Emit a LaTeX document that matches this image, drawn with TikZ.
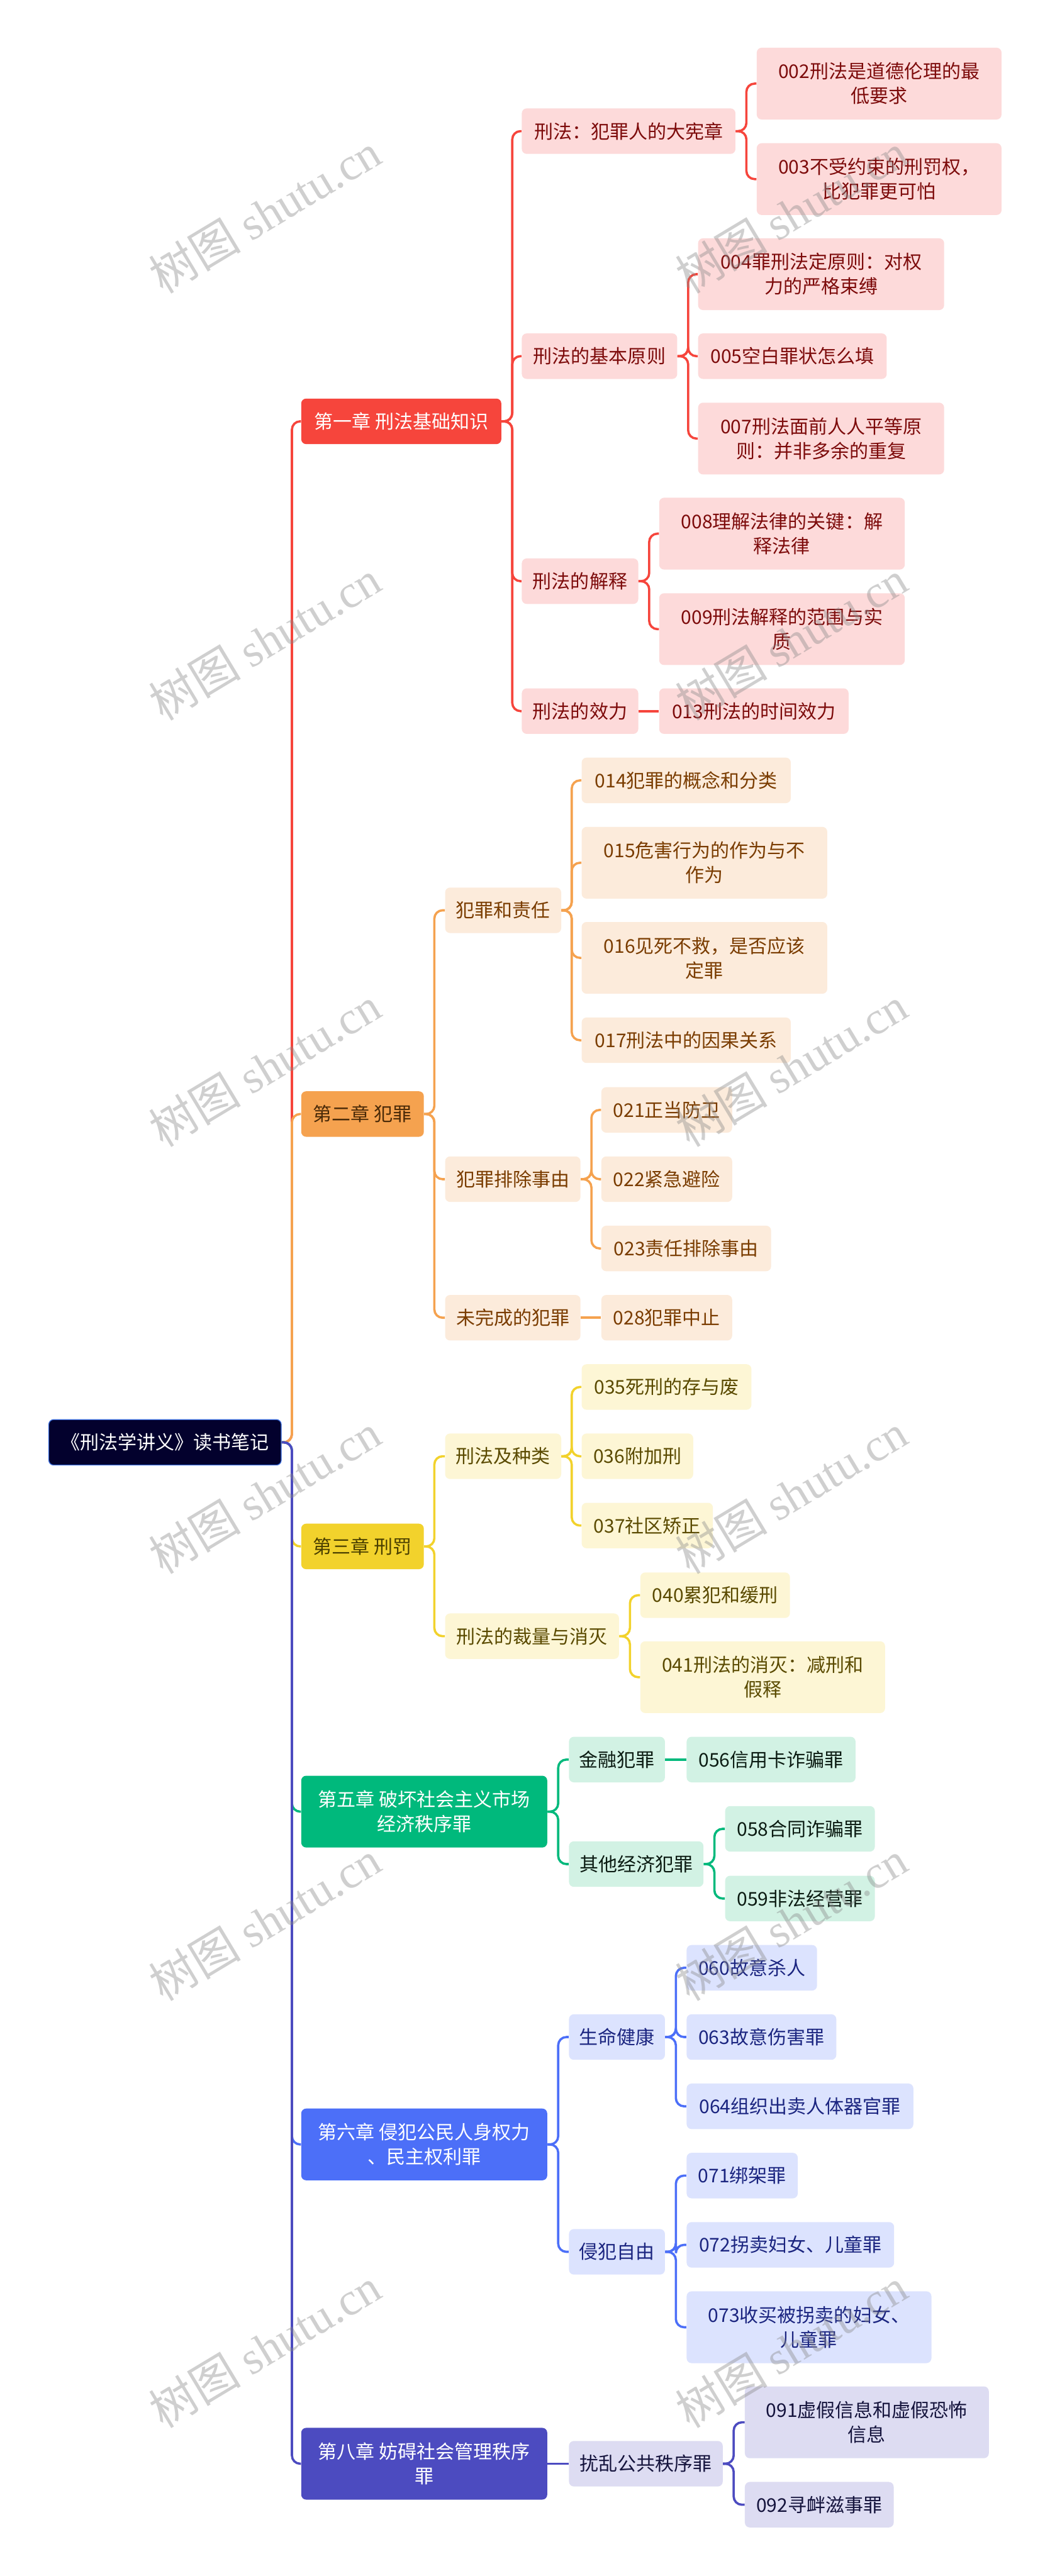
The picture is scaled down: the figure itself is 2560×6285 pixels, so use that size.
\documentclass[tikz,border=0pt]{standalone}
\usepackage{fontspec}
\setmainfont{Noto Sans CJK SC}
\newfontfamily\wmlatin{Liberation Serif}
\usetikzlibrary{calc}
\definecolor{rootfill}{HTML}{03012D}
\definecolor{rootedge}{HTML}{3A6BDB}
\definecolor{cA}{HTML}{F6453C}
\definecolor{cAl}{HTML}{FDDADA}
\definecolor{cAt}{HTML}{7D0B0B}
\definecolor{cB}{HTML}{F5A24F}
\definecolor{cBl}{HTML}{FCEBDB}
\definecolor{cBt}{HTML}{7A3C00}
\definecolor{cBh}{HTML}{4A2A08}
\definecolor{cC}{HTML}{F2D22C}
\definecolor{cCl}{HTML}{FDF6D5}
\definecolor{cCt}{HTML}{5A4A00}
\definecolor{cCh}{HTML}{4A3F00}
\definecolor{cD}{HTML}{00B97C}
\definecolor{cDl}{HTML}{D2F2E4}
\definecolor{cDt}{HTML}{0B1B12}
\definecolor{cE}{HTML}{4C6FF8}
\definecolor{cEl}{HTML}{DCE3FE}
\definecolor{cEt}{HTML}{1B2580}
\definecolor{cF}{HTML}{4C4BC0}
\definecolor{cFl}{HTML}{DDDCF2}
\definecolor{cFt}{HTML}{14133C}
\definecolor{wmgray}{HTML}{888888}
\tikzset{
  box/.style={rectangle, rounded corners=0.12cm, inner sep=0pt, align=center,
    font=\fontsize{13.1pt}{17pt}\selectfont, anchor=west, minimum height=1.11cm},
  two/.style={minimum height=1.75cm},
  bw/.style={minimum width=#1*0.01cm},
  conn/.style={line width=0.055cm, rounded corners=0.2cm},
  lA/.style={box, fill=cAl, text=cAt}, lB/.style={box, fill=cBl, text=cBt},
  lC/.style={box, fill=cCl, text=cCt}, lD/.style={box, fill=cDl, text=cDt},
  lE/.style={box, fill=cEl, text=cEt}, lF/.style={box, fill=cFl, text=cFt},
  wm/.style={rotate=31, text=wmgray, text opacity=0.4, font=\fontsize{32pt}{32pt}\selectfont}
}
\begin{document}
\begin{tikzpicture}[x=0.01cm, y=-0.01cm]
\useasboundingbox (0,0) rectangle (2560,6285);
\fill[white] (0,0) rectangle (2560,6285);
% root
\node[box, bw=567, fill=rootfill, draw=rootedge, line width=0.02cm, text=white] (root) at (118,3519) {《刑法学讲义》读书笔记};
% chapters
\node[box, bw=488, fill=cA, text=white] (ch1) at (734,1028) {第一章 刑法基础知识};
\node[box, bw=299, fill=cB, text=cBh] (ch2) at (734,2718) {第二章 犯罪};
\node[box, bw=299, fill=cC, text=cCh] (ch3) at (734,3773) {第三章 刑罚};
\node[box, two, bw=600, fill=cD, text=white] (ch5) at (734,4420) {第五章 破坏社会主义市场\\经济秩序罪};
\node[box, two, bw=600, fill=cE, text=white] (ch6) at (734,5232) {第六章 侵犯公民人身权力\\、民主权利罪};
\node[box, two, bw=600, fill=cF, text=white] (ch8) at (734,6011) {第八章 妨碍社会管理秩序\\罪};
% chapter 1
\node[lA, bw=521] (a1) at (1272,320) {刑法：犯罪人的大宪章};
\node[lA, two, bw=597] (a11) at (1845,204) {002刑法是道德伦理的最\\低要求};
\node[lA, two, bw=597] (a12) at (1845,437) {003不受约束的刑罚权，\\比犯罪更可怕};
\node[lA, bw=379] (a2) at (1272,869) {刑法的基本原则};
\node[lA, two, bw=600] (a21) at (1702,669) {004罪刑法定原则：对权\\力的严格束缚};
\node[lA, bw=460] (a22) at (1702,869) {005空白罪状怎么填};
\node[lA, two, bw=600] (a23) at (1702,1070) {007刑法面前人人平等原\\则：并非多余的重复};
\node[lA, bw=284] (a3) at (1272,1418) {刑法的解释};
\node[lA, two, bw=599] (a31) at (1607,1302) {008理解法律的关键：解\\释法律};
\node[lA, two, bw=599] (a32) at (1607,1535) {009刑法解释的范围与实\\质};
\node[lA, bw=284] (a4) at (1272,1735) {刑法的效力};
\node[lA, bw=462] (a41) at (1607,1735) {013刑法的时间效力};
% chapter 2
\node[lB, bw=283] (b1) at (1085,2221) {犯罪和责任};
\node[lB, bw=510] (b11) at (1418,1904) {014犯罪的概念和分类};
\node[lB, two, bw=599] (b12) at (1418,2105) {015危害行为的作为与不\\作为};
\node[lB, two, bw=599] (b13) at (1418,2337) {016见死不救，是否应该\\定罪};
\node[lB, bw=510] (b14) at (1418,2538) {017刑法中的因果关系};
\node[lB, bw=330] (b2) at (1085,2877) {犯罪排除事由};
\node[lB, bw=319] (b21) at (1466,2708) {021正当防卫};
\node[lB, bw=319] (b22) at (1466,2877) {022紧急避险};
\node[lB, bw=414] (b23) at (1466,3046) {023责任排除事由};
\node[lB, bw=330] (b3) at (1085,3215) {未完成的犯罪};
\node[lB, bw=319] (b31) at (1466,3215) {028犯罪中止};
% chapter 3
\node[lC, bw=283] (c1) at (1085,3553) {刑法及种类};
\node[lC, bw=414] (c11) at (1418,3384) {035死刑的存与废};
\node[lC, bw=272] (c12) at (1418,3553) {036附加刑};
\node[lC, bw=320] (c13) at (1418,3722) {037社区矫正};
\node[lC, bw=424] (c2) at (1085,3992) {刑法的裁量与消灭};
\node[lC, bw=365] (c21) at (1561,3892) {040累犯和缓刑};
\node[lC, two, bw=597] (c22) at (1561,4092) {041刑法的消灭：减刑和\\假释};
% chapter 5
\node[lD, bw=234] (d1) at (1387,4293) {金融犯罪};
\node[lD, bw=412] (d11) at (1674,4293) {056信用卡诈骗罪};
\node[lD, bw=328] (d2) at (1387,4548) {其他经济犯罪};
\node[lD, bw=365] (d21) at (1768,4462) {058合同诈骗罪};
\node[lD, bw=365] (d22) at (1768,4632) {059非法经营罪};
% chapter 6
\node[lE, bw=234] (e1) at (1387,4970) {生命健康};
\node[lE, bw=318] (e11) at (1674,4801) {060故意杀人};
\node[lE, bw=365] (e12) at (1674,4970) {063故意伤害罪};
\node[lE, bw=553] (e13) at (1674,5139) {064组织出卖人体器官罪};
\node[lE, bw=234] (e2) at (1387,5494) {侵犯自由};
\node[lE, bw=271] (e21) at (1674,5308) {071绑架罪};
\node[lE, bw=506] (e22) at (1674,5477) {072拐卖妇女、儿童罪};
\node[lE, two, bw=597] (e23) at (1674,5678) {073收买被拐卖的妇女、\\儿童罪};
% chapter 8
\node[lF, bw=375] (f1) at (1387,6011) {扰乱公共秩序罪};
\node[lF, two, bw=595] (f11) at (1816,5910) {091虚假信息和虚假恐怖\\信息};
\node[lF, bw=363] (f12) at (1816,6111) {092寻衅滋事罪};
% connectors
\begin{scope}[conn, draw=cA]
\draw (root.east) -- ++(25,0) |- (ch1.west);
\foreach \c in {a1,a2,a3,a4} \draw (ch1.east) -- ++(26,0) |- (\c.west);
\foreach \c in {a11,a12} \draw (a1.east) -- ++(26,0) |- (\c.west);
\foreach \c in {a21,a22,a23} \draw (a2.east) -- ++(26,0) |- (\c.west);
\foreach \c in {a31,a32} \draw (a3.east) -- ++(26,0) |- (\c.west);
\draw (a4.east) -- (a41.west);
\end{scope}
\begin{scope}[conn, draw=cB]
\draw (root.east) -- ++(25,0) |- (ch2.west);
\foreach \c in {b1,b2,b3} \draw (ch2.east) -- ++(25,0) |- (\c.west);
\foreach \c in {b11,b12,b13,b14} \draw (b1.east) -- ++(25,0) |- (\c.west);
\foreach \c in {b21,b22,b23} \draw (b2.east) -- ++(26,0) |- (\c.west);
\draw (b3.east) -- (b31.west);
\end{scope}
\begin{scope}[conn, draw=cC]
\draw (root.east) -- ++(25,0) |- (ch3.west);
\foreach \c in {c1,c2} \draw (ch3.east) -- ++(25,0) |- (\c.west);
\foreach \c in {c11,c12,c13} \draw (c1.east) -- ++(25,0) |- (\c.west);
\foreach \c in {c21,c22} \draw (c2.east) -- ++(26,0) |- (\c.west);
\end{scope}
\begin{scope}[conn, draw=cD]
\draw (root.east) -- ++(25,0) |- (ch5.west);
\foreach \c in {d1,d2} \draw (ch5.east) -- ++(26,0) |- (\c.west);
\draw (d1.east) -- (d11.west);
\foreach \c in {d21,d22} \draw (d2.east) -- ++(26,0) |- (\c.west);
\end{scope}
\begin{scope}[conn, draw=cE]
\draw (root.east) -- ++(25,0) |- (ch6.west);
\foreach \c in {e1,e2} \draw (ch6.east) -- ++(26,0) |- (\c.west);
\foreach \c in {e11,e12,e13} \draw (e1.east) -- ++(26,0) |- (\c.west);
\foreach \c in {e21,e22,e23} \draw (e2.east) -- ++(26,0) |- (\c.west);
\end{scope}
\begin{scope}[conn, draw=cF]
\draw (root.east) -- ++(25,0) |- (ch8.west);
\draw (ch8.east) -- (f1.west);
\foreach \c in {f11,f12} \draw (f1.east) -- ++(26,0) |- (\c.west);
\end{scope}
% watermarks
\foreach \i/\yy in {1/520,2/1562,3/2603,4/3645,5/4687,6/5728} {
  \node[wm] (wmL\i) at (646,\yy) {树图 {\wmlatin shutu.cn}};
  \node[wm] (wmR\i) at (1930,\yy) {树图 {\wmlatin shutu.cn}};
}
\end{tikzpicture}
\end{document}
